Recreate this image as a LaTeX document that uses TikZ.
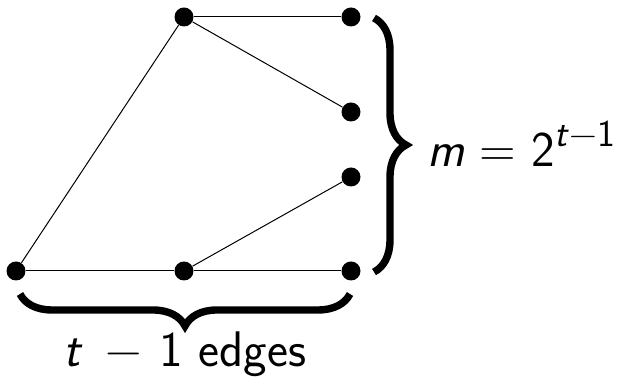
\documentclass[tikz,border=0pt]{standalone}
\usepackage{fontspec}
\usetikzlibrary{decorations.pathreplacing}
\begin{document}
\begin{tikzpicture}[x=0.5pt,y=-0.5pt,
  vert/.style={circle,fill=black,inner sep=0pt,minimum size=9.5pt},
  edge/.style={line width=0.5pt},
  bigbrace/.style={decorate,decoration={brace,amplitude=16pt},line width=3.7pt},
  lbl/.style={font=\fontsize{25}{30}\selectfont\sffamily,inner sep=0pt}]
\useasboundingbox (0,0) rectangle (623,383);
\node[vert] (a) at (184,17) {};
\node[vert] (b) at (351,17) {};
\node[vert] (c) at (351,112) {};
\node[vert] (d) at (351,177) {};
\node[vert] (e) at (16,271) {};
\node[vert] (f) at (184,271) {};
\node[vert] (g) at (351,271) {};
\draw[edge] (a) -- (b);
\draw[edge] (a) -- (c);
\draw[edge] (a) -- (e);
\draw[edge] (e) -- (f);
\draw[edge] (f) -- (g);
\draw[edge] (f) -- (d);
\coordinate (r1) at (374,18);
\coordinate (r2) at (374,272);
\draw[bigbrace] (r1) -- (r2);
\coordinate (b1) at (350,294);
\coordinate (b2) at (20,294);
\draw[bigbrace] (b1) -- (b2);
\node[lbl,anchor=base west] (m) at (427,167) {\textit{m}\hspace{0.3em}=\hspace{0.3em}2\raisebox{0.4em}{\fontsize{19}{22}\selectfont\textit{t}−1}};
\node[lbl,anchor=base] (t) at (185,367) {\textit{t}\hspace{0.45em}−\hspace{0.35em}1 edges};
\end{tikzpicture}
\end{document}
